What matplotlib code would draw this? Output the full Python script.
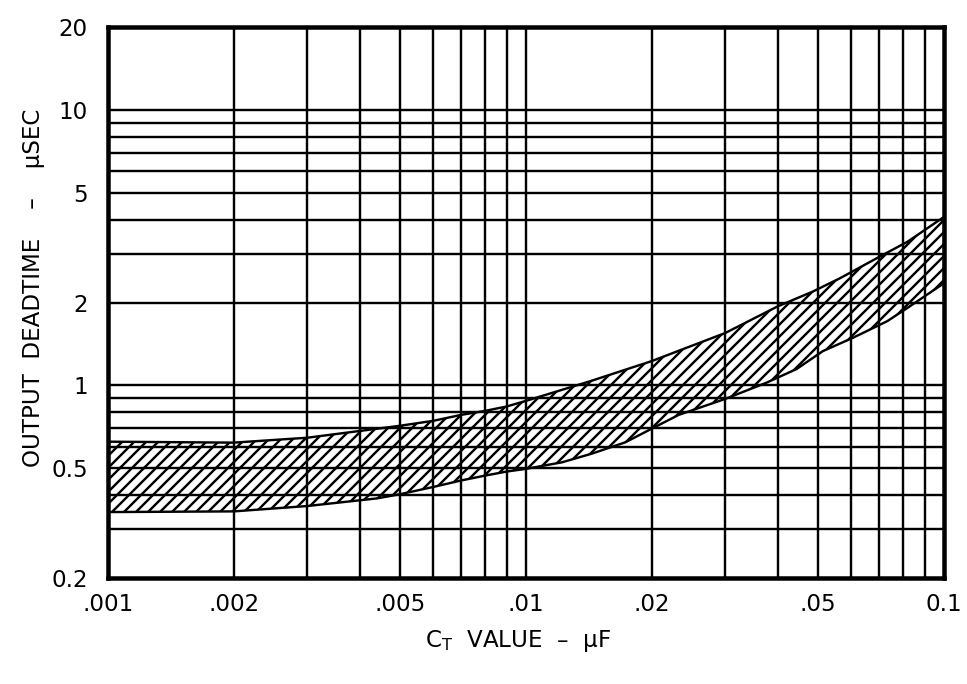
import matplotlib
matplotlib.use("Agg")
import matplotlib.pyplot as plt
import numpy as np

# Data
upper_x = [0.001, 0.002, 0.003, 0.005, 0.006, 0.007, 0.008, 0.009, 0.01, 0.0143,
           0.02, 0.03, 0.04, 0.0485, 0.0564, 0.0715, 0.0817, 0.1]
upper_y = [0.625, 0.620, 0.646, 0.714, 0.744, 0.782, 0.809, 0.839, 0.879, 1.038,
           1.226, 1.551, 1.936, 2.19, 2.45, 2.98, 3.32, 4.09]
lower_x = [0.001, 0.002, 0.003, 0.0044, 0.005, 0.006, 0.007, 0.008, 0.009, 0.01,
           0.0122, 0.0144, 0.0173, 0.02, 0.0232, 0.03, 0.0376, 0.0444, 0.0513,
           0.0605, 0.0731, 0.0817, 0.1]
lower_y = [0.347, 0.349, 0.365, 0.389, 0.403, 0.428, 0.452, 0.471, 0.487, 0.498,
           0.526, 0.566, 0.622, 0.697, 0.782, 0.894, 1.023, 1.147, 1.332,
           1.488, 1.71, 1.91, 2.35]

x_ticks = [0.001, 0.002, 0.005, 0.01, 0.02, 0.05, 0.1]
x_ticklabels = [".001", ".002", ".005", ".01", ".02", ".05", "0.1"]
y_ticks = [0.2, 0.5, 1, 2, 5, 10, 20]
y_ticklabels = ["0.2", "0.5", "1", "2", "5", "10", "20"]

plt.rcParams['font.family'] = ['DejaVu Sans']
plt.rcParams['hatch.linewidth'] = 2.4

DPI = 72
W, H = 967, 684
fig = plt.figure(figsize=(W / DPI, H / DPI), dpi=DPI)
ax = fig.add_axes([108 / W, 1 - 578 / H, (944 - 108) / W, (578 - 27) / H])

ax.set_xscale('log')
ax.set_yscale('log')
ax.set_xlim(0.001, 0.1)
ax.set_ylim(0.2, 20)

# grid lines at every decade subdivision
xg = [m * 10.0 ** e for e in (-3, -2) for m in range(1, 10)]
xg = [v for v in xg if 0.001 < v < 0.1]
yg = [m * 10.0 ** e for e in (-1, 0, 1) for m in range(1, 10)]
yg = [v for v in yg if 0.2 < v < 20]
for v in xg:
    ax.axvline(v, color='black', lw=2.4, zorder=1)
for v in yg:
    ax.axhline(v, color='black', lw=2.4, zorder=1)

# hatched band
poly_x = list(upper_x) + list(reversed(lower_x))
poly_y = list(upper_y) + list(reversed(lower_y))
ax.fill(poly_x, poly_y, facecolor='none', edgecolor='black', hatch='//',
        linewidth=2.4, zorder=2)

ax.set_xticks(x_ticks)
ax.set_xticklabels(x_ticklabels)
ax.set_yticks(y_ticks)
ax.set_yticklabels(y_ticklabels)
ax.xaxis.set_minor_locator(matplotlib.ticker.NullLocator())
ax.yaxis.set_minor_locator(matplotlib.ticker.NullLocator())
ax.tick_params(axis='both', length=0, labelsize=23)
ax.tick_params(axis='x', pad=15)
ax.tick_params(axis='y', pad=20)

for s in ax.spines.values():
    s.set_linewidth(4.5)
    s.set_zorder(5)

fig.text(518 / W, 1 - 641 / H, r"C$_\mathregular{T}$  VALUE  –  μF",
         fontsize=23, ha='center', va='center')
fig.text(34 / W, 1 - 288 / H, "OUTPUT  DEADTIME    –    μSEC",
         fontsize=23, ha='center', va='center', rotation=90)

fig.savefig("out.png", dpi=DPI)
